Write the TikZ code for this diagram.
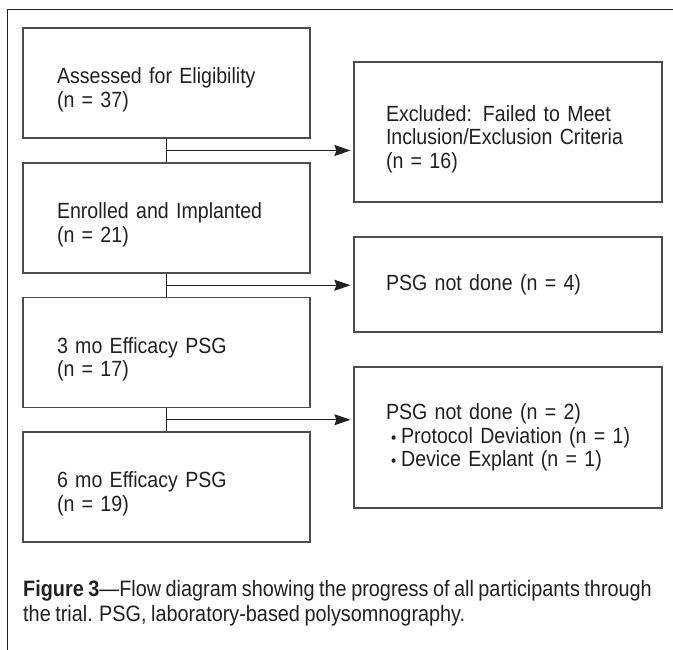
\documentclass[tikz,border=0pt]{standalone}
\usepackage{fontspec}
\setmainfont{Liberation Sans}[FakeStretch=0.89, WordSpace=0.82]
\usepackage{tikz}
\usetikzlibrary{arrows.meta,calc}
\definecolor{fdline}{HTML}{4D4D4D}
\definecolor{fdtext}{HTML}{231F20}
\newcommand{\fdbullet}{\hspace*{5pt}\scalebox{0.75}{\textbullet}\hspace{5pt}}
\newcommand{\fdlift}{\rule{0pt}{30pt}}
\newcommand{\fdfull}[1]{\makebox[244pt][s]{#1}}

\begin{document}
\begin{tikzpicture}[x=1pt,y=-1pt,
  every node/.style={font=\fontsize{22}{23.5}\selectfont, text=fdtext},
  lbox/.style={draw=fdline, line width=1.2pt, align=left, inner xsep=34pt,
    inner ysep=0pt, text width=219pt, minimum height=110pt},
  rbox/.style={draw=fdline, line width=1.2pt, align=left, inner xsep=32pt,
    inner ysep=0pt, text width=244pt},
  link/.style={draw=fdtext, line width=1pt},
  arr/.style={link, -{Stealth[length=16pt,width=11pt,inset=2pt]}, shorten >=3pt}]
  \useasboundingbox (0,0) rectangle (673,650);
  % frame
  \draw[fdtext, line width=1pt] (7,650) -- (7,10) -- (673,10);
  % main column
  \node[lbox] (A) at (166.5,83)    {\fdlift Assessed for Eligibility\\(n = 37)};
  \node[lbox] (B) at (166.5,218)   {\fdlift Enrolled and Implanted\\(n = 21)};
  \node[lbox] (C) at (166.5,352.5) {\fdlift 3 mo Efficacy PSG\\(n = 17)};
  \node[lbox] (D) at (166.5,487)   {\fdlift 6 mo Efficacy PSG\\(n = 19)};
  % exclusions
  \node[rbox, minimum height=140pt] (E1) at (508,132)
    {\fdlift\fdfull{Excluded: Failed to Meet}\\\fdfull{Inclusion/Exclusion Criteria}\\(n = 16)};
  \node[rbox, minimum height=95pt] (E2) at (508,284.5) {PSG not done (n = 4)};
  \node[rbox, minimum height=141pt] (E3) at (508,437.5)
    {PSG not done (n = 2)\\\mbox{\fdbullet Protocol Deviation (n = 1)}\\\mbox{\fdbullet Device Explant (n = 1)}};
  \foreach \u/\v/\x in {A/B/E1,B/C/E2,C/D/E3}{
    \draw[link] (\u.south) -- (\v.north);
    \coordinate (m\u) at ($(\u.south)!0.5!(\v.north)$);
    \draw[arr] (m\u) -- (m\u -| \x.west);
  }
  % caption
  \node[anchor=north west, inner sep=0pt, align=left,
    font=\fontsize{22.3}{25.5}\selectfont] (cap) at (23,580)
    {\textbf{Figure 3}—Flow diagram showing the progress of all participants through\\the trial. PSG, laboratory-based polysomnography.};
\end{tikzpicture}
\end{document}
